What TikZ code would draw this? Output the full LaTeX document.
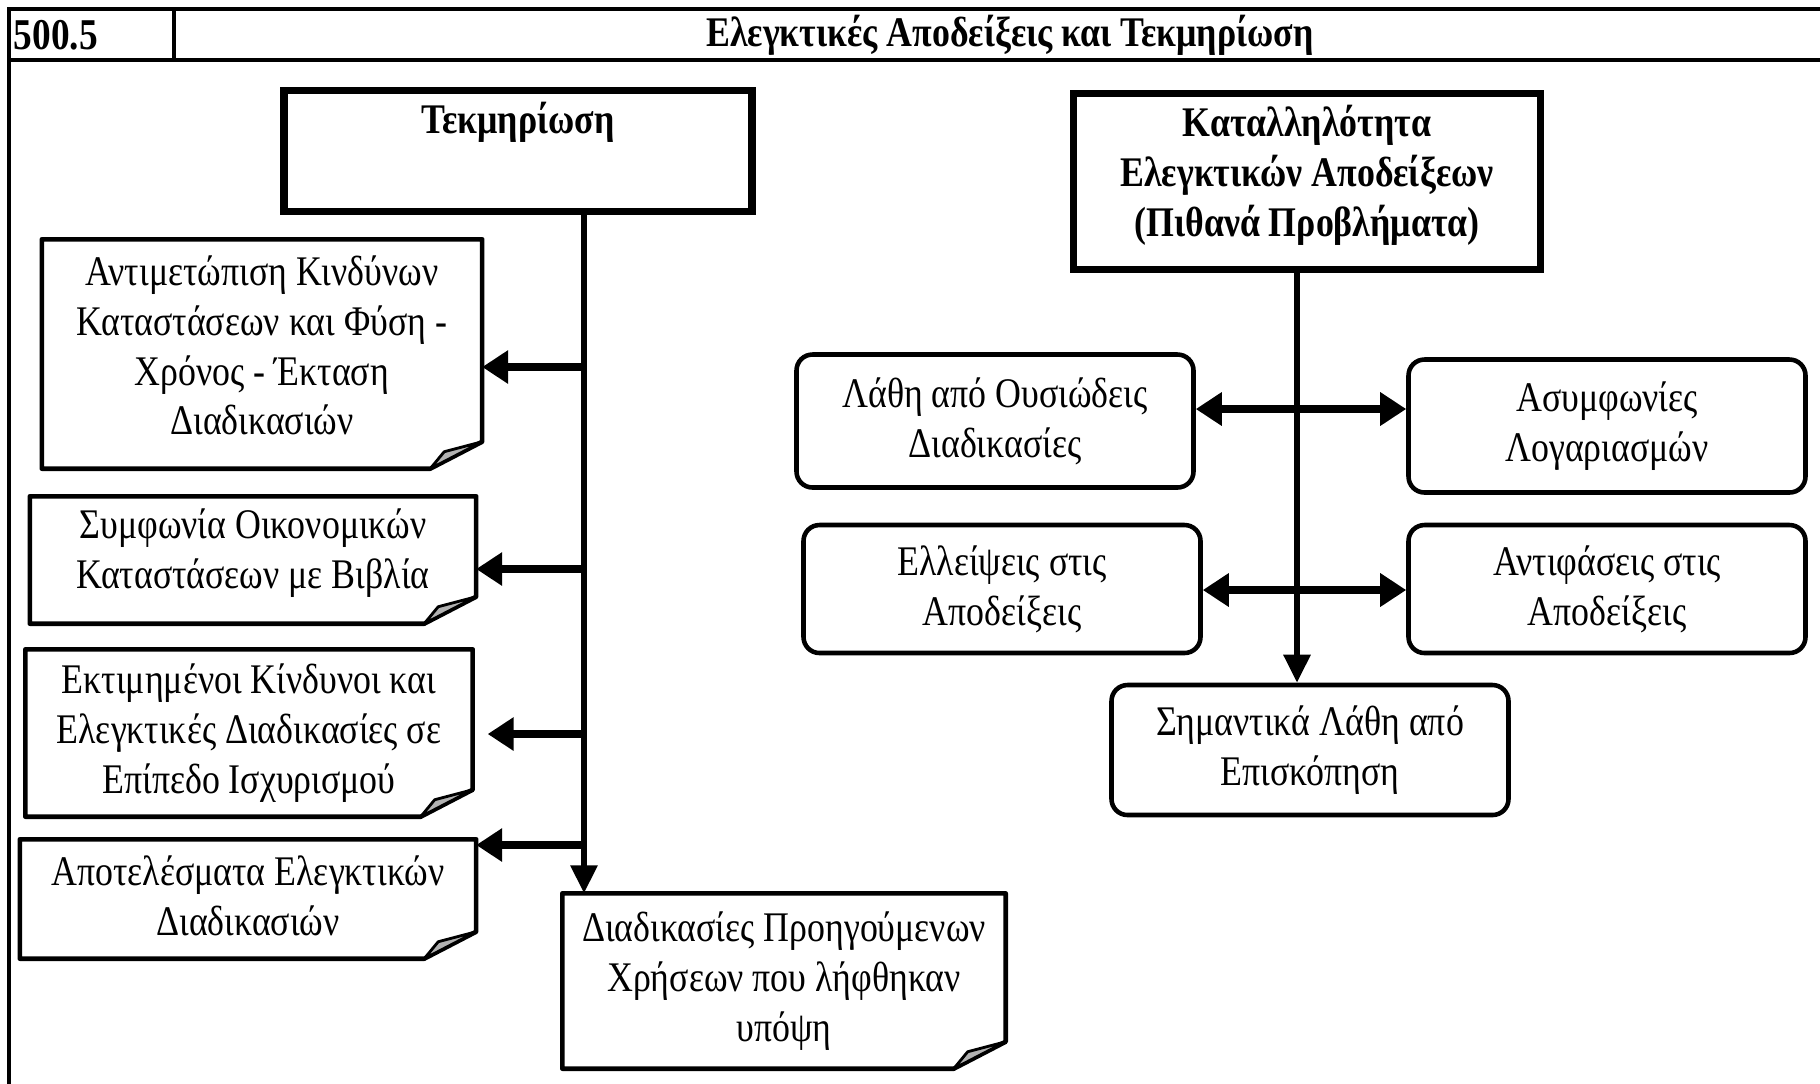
\documentclass[tikz,border=0pt]{standalone}
\usepackage{fontspec}
\setmainfont{Liberation Serif}[FakeStretch=0.85]
\usetikzlibrary{arrows.meta}

% outline of a note with a folded corner
\newcommand{\notepage}[1]{%
  \draw[line width=1.3pt, line join=round] (#1.north west) -- (#1.north east) -- ([yshift=0.27cm]#1.south east) -- ([xshift=-0.52cm]#1.south east) -- (#1.south west) -- cycle;
  \filldraw[fill=black!30, line width=0.8pt, line join=round] ([xshift=-0.52cm]#1.south east) -- ([yshift=0.27cm]#1.south east) -- ([xshift=-0.38cm,yshift=0.17cm]#1.south east) -- cycle;}

\begin{document}
\begin{tikzpicture}[x=0.1mm, y=-0.1mm, font=\fontsize{12}{14.2}\selectfont,
  every node/.style={align=center, inner sep=0pt},
  headbox/.style={draw, line width=2pt, font=\fontsize{12}{14.2}\selectfont\bfseries},
  roundbox/.style={draw, line width=1.3pt, rounded corners=1.6mm, minimum width=39.7mm},
  spine/.style={line width=1.7pt},
  branch/.style={line width=2.3pt, -{Triangle[length=2.6mm, width=3.2mm]}},
  both/.style={line width=2.3pt, {Triangle[length=2.6mm, width=3.2mm]}-{Triangle[length=2.6mm, width=3.2mm]}}]
\useasboundingbox (0,0) rectangle (1820,1083);

% frame and header
\draw[line width=1pt] (9,1090) -- (9,9) -- (1830,9);
\draw[line width=1.4pt] (9,60) -- (1830,60);
\draw[line width=1.2pt] (174,9) -- (174,60);
\node[anchor=west, font=\fontsize{12.5}{14.2}\selectfont\bfseries] (num) at (13,35) {500.5};
\node[font=\fontsize{12}{14.2}\selectfont\bfseries] (title) at (1010,35) {Ελεγκτικές Αποδείξεις και Τεκμηρίωση};

% left side
\node[headbox, minimum width=46.8mm, minimum height=12.1mm, text depth=19pt] (doc) at (518,151) {Τεκμηρίωση};
\node[minimum width=43.9mm, minimum height=22.8mm, text depth=5pt] (risk) at (262,354) {Αντιμετώπιση Κινδύνων\\Καταστάσεων και Φύση -\\Χρόνος - Έκταση\\Διαδικασιών};
\node[minimum width=44.5mm, minimum height=12.6mm, text depth=6.5pt] (recon) at (253,560) {Συμφωνία Οικονομικών\\Καταστάσεων με Βιβλία};
\node[minimum width=44.6mm, minimum height=16.6mm] (assess) at (249,733) {Εκτιμημένοι Κίνδυνοι και\\Ελεγκτικές Διαδικασίες σε\\Επίπεδο Ισχυρισμού};
\node[minimum width=45.5mm, minimum height=11.8mm, text depth=2pt] (results) at (248,899) {Αποτελέσματα Ελεγκτικών\\Διαδικασιών};
\node[minimum width=44.2mm, minimum height=17.4mm] (prior) at (784,981) {Διαδικασίες Προηγούμενων\\Χρήσεων που λήφθηκαν\\υπόψη};
\foreach \n in {risk,recon,assess,results,prior} {\notepage{\n}}

\coordinate (top1) at (584,212);
\coordinate (j1) at (584,367);
\coordinate (j2) at (584,569);
\coordinate (j3) at (584,734);
\coordinate (j4) at (584,845);
\draw[spine, -{Triangle[length=2.8mm, width=2.6mm]}] (top1) -- (top1 |- prior.north);
\draw[branch] (j1) -- (j1 -| risk.east);
\draw[branch] (j2) -- (j2 -| recon.east);
\draw[branch, shorten >=1.5mm] (j3) -- (j3 -| assess.east);
\draw[branch] (j4) -- (j4 -| results.east);

% right side
\node[headbox, minimum width=46.7mm, minimum height=17.6mm, text depth=6pt] (fit) at (1307,181) {Καταλληλότητα\\Ελεγκτικών Αποδείξεων\\(Πιθανά Προβλήματα)};
\node[roundbox, minimum height=13.3mm] (errs) at (995,421) {Λάθη από Ουσιώδεις\\Διαδικασίες};
\node[roundbox, minimum height=13.3mm] (recs) at (1607,426) {Ασυμφωνίες\\Λογαριασμών};
\node[roundbox, minimum height=12.8mm] (gaps) at (1002,589) {Ελλείψεις στις\\Αποδείξεις};
\node[roundbox, minimum height=12.8mm] (contra) at (1607,589) {Αντιφάσεις στις\\Αποδείξεις};
\node[roundbox, minimum height=13mm] (review) at (1310,750) {Σημαντικά Λάθη από\\Επισκόπηση};

\coordinate (top2) at (1297,269);
\coordinate (k1) at (1297,409);
\coordinate (k2) at (1297,590);
\draw[spine, -{Triangle[length=2.8mm, width=2.6mm]}] (top2) -- (top2 |- review.north);
\draw[both] (k1 -| errs.east) -- (k1 -| recs.west);
\draw[both] (k2 -| gaps.east) -- (k2 -| contra.west);
\end{tikzpicture}
\end{document}
